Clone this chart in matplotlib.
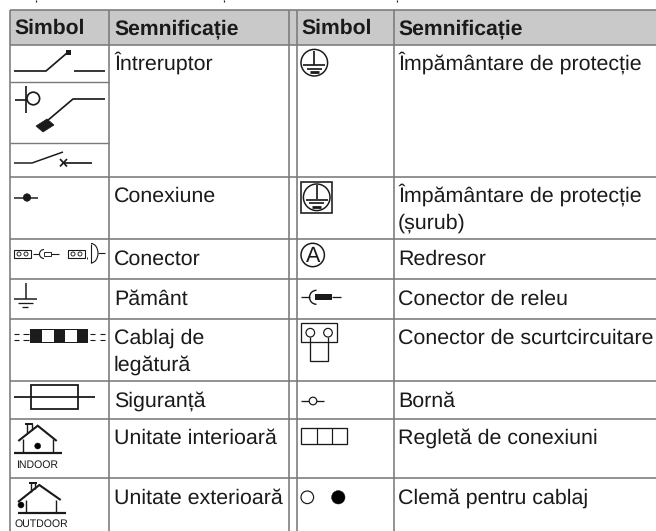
"""
    Legend table of electrical symbols, redrawn with matplotlib.
    Axes are in image pixels, y pointing down.
"""
import matplotlib
matplotlib.use('Agg')
import matplotlib.pyplot as plt
from matplotlib.patches import Circle, Rectangle, Polygon, Arc

plt.rcParams['font.family'] = ['Liberation Sans', 'DejaVu Sans']
plt.rcParams['text.hinting'] = 'none'

headers = ['Simbol', 'Semnificație', 'Simbol', 'Semnificație']
meanings_left = ['Întreruptor', 'Conexiune', 'Conector', 'Pământ', 'Cablaj de\nlegătură',
                 'Siguranță', 'Unitate interioară', 'Unitate exterioară']
meanings_right = ['Împământare de protecție', 'Împământare de protecție\n(șurub)', 'Redresor',
                  'Conector de releu', 'Conector de scurtcircuitare', 'Bornă',
                  'Regletă de conexiuni', 'Clemă pentru cablaj']
house_labels = ['INDOOR', 'OUTDOOR']

# -- layout, in pixels
col_x = [10, 109, 289, 296.5, 393.5]
row_y = [10, 44.5, 177, 238.5, 279, 319, 380.5, 419, 478]
baselines = [70, 201.7, 265, 304.3, 343.3, 406.7, 443.3, 503.3]
header_x = [14, 114, 301, 398]

GRID = '#7a7a7a'
INK = '#1a1a1a'
FS = 15.4

fig = plt.figure(figsize=(6.56, 5.31), dpi=100)
ax = fig.add_axes([0, 0, 1, 1])
ax.set_xlim(0, 656)
ax.set_ylim(531, 0)
ax.axis('off')


def line(xs, ys, lw=1.7, color=INK):
    ax.plot(xs, ys, color=color, lw=lw * 0.72, solid_capstyle='butt', solid_joinstyle='miter')


def circle(x, y, r, fill='none', lw=1.4):
    ax.add_patch(Circle((x, y), r, facecolor=fill, edgecolor=INK, lw=lw * 0.72, zorder=3))


def rect(x0, y0, x1, y1, fill='none', lw=1.4, edge=INK):
    ax.add_patch(Rectangle((x0, y0), x1 - x0, y1 - y0, facecolor=fill, edgecolor=edge, lw=lw * 0.72))


def cell_text(x, y, s):
    # wrapped cells are split by hand, the row pitch is fixed
    for i, part in enumerate(s.split('\n')):
        ax.text(x, y + i * 27.3, part, fontsize=FS, color=INK, va='baseline')


def earth(x, y):
    # protective earth sign, y is the circle centre
    circle(x, y, 13.3, lw=1.5)
    line([x, x], [y - 12, y + 2], 1.7)
    line([x - 11, x + 11], [y + 2.5, y + 2.5], 1.7)
    line([x - 7.5, x + 7.5], [y + 6, y + 6], 1.7)
    line([x - 4.5, x + 4.5], [y + 9.5, y + 9.5], 2.8)


def house(ground, apex, left, right, walls, chim, dot, label, label_x, label_y):
    line(ground, [apex[2]] * 2, 2.2)
    line([left[0], apex[0], right[0]], [left[1], apex[1], right[1]], 2.1)
    line([walls[0]] * 2, [left[1] - 2, apex[2]], 1.4)
    line([walls[1]] * 2, [left[1] - 2, apex[2]], 1.4)
    line([chim[0]] * 2, [chim[2], chim[3]], 1.4)
    line([chim[1]] * 2, [chim[2], chim[3] - 3], 1.4)
    line([chim[0] - 2, chim[1] + 1.5], [chim[2], chim[2]], 2)
    circle(dot[0], dot[1], 3, fill='black', lw=0.5)
    ax.text(label_x, label_y, label, fontsize=7.6, color=INK, ha='center', va='baseline')


# -- grid
rect(col_x[0], row_y[0], 657, row_y[1], fill='#c9c9c9', lw=0)
for x in col_x:
    line([x, x], [row_y[0], 532], 1.6, GRID)
for y in row_y:
    line([col_x[0], 657], [y, y], 1.6, GRID)
line([col_x[0], col_x[1]], [81.5, 81.5], 1.4, GRID)
line([col_x[0], col_x[1]], [142.5, 142.5], 1.4, GRID)

# -- text
for x, s in zip(header_x, headers):
    ax.text(x, 34, s, fontsize=15.2, fontweight='bold', color=INK, va='baseline')
for s, y in zip(meanings_left, baselines):
    cell_text(114, y, s)
for s, y in zip(meanings_right, baselines):
    cell_text(398, y, s)

# -- left symbols
# switch 1
line([14, 46, 67], [71, 71, 53])
rect(65.5, 50, 70.5, 54.5, fill=INK, lw=0)
line([74, 105], [71, 71])
# switch 2
line([25.5, 25.5], [86, 113])
line([15, 27], [100, 100])
circle(33.3, 98.5, 6.3, lw=1.7)
line([105, 73, 47], [99, 99, 121])
ax.add_patch(Polygon([[36, 126], [47, 119], [54, 125], [43, 132]], facecolor=INK, edgecolor=INK, lw=0.5))
# switch 3
line([14, 32, 63], [163, 163, 152], 1.5)
line([64, 92], [162.5, 162.5])
line([60, 67], [159, 166.5])
line([60, 67], [166.5, 159])
# connection
line([14, 38], [197.5, 197.5], 1.5)
circle(27, 197.5, 3.8, fill=INK, lw=0.5)
# connector
rect(14.3, 250, 31, 257.5, lw=1.1)
circle(19, 254, 2, lw=0.9)
circle(26, 254, 2, lw=0.9)
line([33, 39], [254, 254], 1.1)
ax.add_patch(Arc((44, 254), 9, 9, theta1=90, theta2=270, color=INK, lw=0.8))
rect(43.5, 252, 50.5, 256, lw=0.9)
line([50.5, 59], [254, 254], 1.1)
rect(68.3, 250, 85, 257.5, lw=1.1)
circle(73, 254, 2, lw=0.9)
circle(80, 254, 2, lw=0.9)
line([87, 87], [256.5, 258.5], 0.9)
line([91, 91], [243.5, 263], 1.1)
ax.add_patch(Arc((91, 253.2), 14, 19.5, theta1=-90, theta2=90, color=INK, lw=0.8))
line([98, 105], [253, 253], 1.1)
# earth
line([25.7, 25.7], [283, 298.5], 1.5)
line([14.3, 37.3], [298.5, 298.5], 1.5)
line([18, 33], [302.8, 302.8], 1.3)
line([22, 28], [307.2, 307.2], 1.3)
# interconnection wiring
for x0, x1 in [(14, 19.3), (23.3, 29), (90, 95), (100, 105)]:
    line([x0, x1], [333.7, 333.7], 1.1)
    line([x0, x1], [340, 340], 1.1)
rect(30.3, 329.3, 88.3, 343.3, fill='#1c1c1c', lw=0)
rect(42.3, 330.2, 54, 342.4, fill='white', lw=0)
rect(65, 330.2, 76.7, 342.4, fill='white', lw=0)
# fuse
rect(31, 385, 78.3, 409, lw=1.8)
line([14.3, 95], [396.7, 396.7], 1.8)
# houses
house([14, 61.7], (37.7, 425.7, 453.3), (18.3, 441), (56.7, 441), (22.7, 52.7),
      (27.3, 31.7, 424, 433), (37.7, 446), house_labels[0], 37.2, 467.7)
house([18, 65.7], (39.3, 485, 513), (18, 502), (60.7, 500), (26, 56),
      (30.7, 35, 483, 492), (21, 505), house_labels[1], 41.5, 527)

# -- right symbols
earth(314.3, 62.7)
rect(301, 181.7, 332.3, 213.3, lw=1.6)
earth(316.7, 197.3)
circle(312.7, 255, 11.7, lw=1.5)
ax.text(312.7, 261.5, 'A', fontsize=15.5, color=INK, ha='center', va='baseline')
# relay connector
line([301, 310], [297.3, 297.3], 1.3)
ax.add_patch(Arc((316.5, 297.3), 14, 14, theta1=90, theta2=270, color=INK, lw=1))
rect(315, 294.3, 331.7, 300.3, fill=INK, lw=0)
line([331.7, 341], [297.3, 297.3], 1.3)
# short circuit connector
rect(301, 323.3, 337.3, 341.7, lw=1.3)
circle(310.3, 332.7, 4.3, fill='white', lw=1.2)
circle(328, 332.7, 4.3, fill='white', lw=1.2)
line([310.3, 310.3, 328, 328], [337, 360.7, 360.7, 337], 1.3)
# terminal
line([301, 324.3], [401, 401], 1.3)
circle(313, 401, 3.8, fill='white', lw=1.2)
# terminal strip
rect(301, 428.3, 347, 444, lw=1.3)
line([316.7, 316.7], [428.3, 444], 1.2)
line([331.7, 331.7], [428.3, 444], 1.2)
# wire clamp
circle(307.3, 497.3, 6.3, lw=1.2)
circle(338.3, 497.3, 6.7, fill='black', lw=0.5)

# -- the clipped descenders of the line above the table
for x in [35.6, 224, 397]:
    line([x, x], [0, 1.5], 1.2)

fig.savefig('out.png', dpi=100)
